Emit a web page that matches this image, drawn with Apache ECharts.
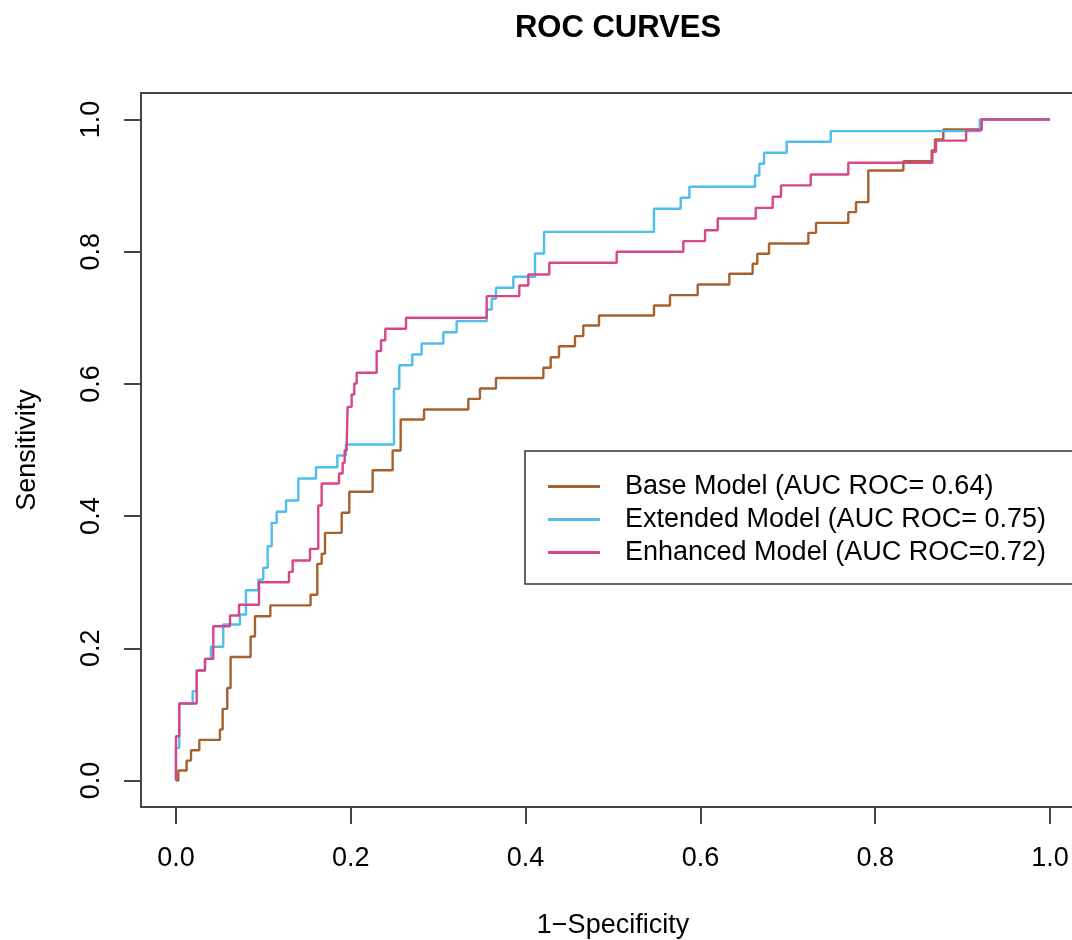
<!DOCTYPE html>
<html lang="en">
<head>
    <meta charset="UTF-8">
    <title>ROC CURVES</title>
    <script src="https://cdn.jsdelivr.net/npm/echarts@6/dist/echarts.min.js"></script>
    <style>
        html, body { margin: 0; padding: 0; background: #fff; }
        #main { width: 1072px; height: 940px; }
    </style>
</head>
<body>
<div id="main"></div>
<script>
    // 曲线名称（图例文字）
    var seriesNames = [
        'Base Model (AUC ROC= 0.64)',
        'Extended Model (AUC ROC= 0.75)',
        'Enhanced Model (AUC ROC=0.72)'
    ];
    var seriesColors = ['#a5622f', '#4fbdee', '#d8468a'];

    // 坐标轴刻度
    var tickValues = [0, 0.2, 0.4, 0.6, 0.8, 1.0];

    // [1-specificity, sensitivity], 每个点是一个台阶的左上角
    var baseRoc = [
        [0, 0], [0.0027, 0.0151], [0.0122, 0.0302], [0.0172, 0.0459], [0.0267, 0.0615],
        [0.0503, 0.0772], [0.0534, 0.1084], [0.0587, 0.140], [0.0625, 0.187], [0.0854, 0.218],
        [0.0904, 0.2486], [0.108, 0.265], [0.154, 0.281], [0.1617, 0.3278], [0.1667, 0.343],
        [0.1705, 0.3747], [0.1896, 0.405], [0.1983, 0.4368], [0.225, 0.4694], [0.2479, 0.4992],
        [0.2571, 0.5461], [0.2838, 0.5613], [0.3345, 0.5774], [0.3478, 0.593], [0.3661, 0.609],
        [0.4203, 0.6243], [0.4287, 0.6404], [0.4382, 0.657], [0.4565, 0.6722], [0.466, 0.6884],
        [0.484, 0.7035], [0.5469, 0.7186], [0.5652, 0.7342], [0.5969, 0.7504], [0.6331, 0.7665],
        [0.6598, 0.7817], [0.6651, 0.7968], [0.6785, 0.8124], [0.7235, 0.8285], [0.7323, 0.8436],
        [0.7692, 0.8598], [0.778, 0.8749], [0.7921, 0.9228], [0.8322, 0.9369], [0.8646, 0.9531],
        [0.8684, 0.9697], [0.8779, 0.9849], [0.9199, 1.0], [1.0, 1.0]
    ];
    var extendedRoc = [
        [0, 0], [0, 0.0494], [0.0038, 0.1165], [0.0191, 0.1351], [0.0237, 0.1664],
        [0.0332, 0.184], [0.040, 0.2023], [0.0541, 0.236], [0.0732, 0.2511], [0.0801, 0.2879],
        [0.0942, 0.304], [0.0999, 0.3218], [0.1049, 0.3545], [0.1095, 0.3898], [0.1152, 0.4065],
        [0.1259, 0.4236], [0.140, 0.4569], [0.1602, 0.474], [0.1846, 0.4917], [0.1945, 0.5083],
        [0.2494, 0.5926], [0.2555, 0.6283], [0.2704, 0.6445], [0.2811, 0.6611], [0.3059, 0.6782],
        [0.3211, 0.6949], [0.3555, 0.7126], [0.3612, 0.7287], [0.3661, 0.7454], [0.386, 0.762],
        [0.4108, 0.7973], [0.4211, 0.830], [0.5469, 0.8649], [0.5774, 0.8815], [0.5874, 0.8981],
        [0.6625, 0.9153], [0.6674, 0.933], [0.6728, 0.9496], [0.6987, 0.9662], [0.7491, 0.9823],
        [0.9199, 1.0], [1.0, 1.0]
    ];
    var enhancedRoc = [
        [0, 0], [0, 0.067], [0.0038, 0.1165], [0.0237, 0.1664], [0.0332, 0.184],
        [0.0427, 0.2335], [0.0618, 0.2496], [0.0721, 0.266], [0.095, 0.300], [0.1293, 0.3156],
        [0.1335, 0.3328], [0.1533, 0.3505], [0.1628, 0.416], [0.1667, 0.4493], [0.1865, 0.4644],
        [0.1907, 0.4806], [0.193, 0.4997], [0.1953, 0.5083], [0.1964, 0.5653], [0.201, 0.584],
        [0.204, 0.6006], [0.2067, 0.6168], [0.2296, 0.6495], [0.2346, 0.666], [0.2395, 0.6833],
        [0.2632, 0.700], [0.3555, 0.7327], [0.3928, 0.7489], [0.4031, 0.7655], [0.4271, 0.7832],
        [0.5042, 0.7998], [0.5805, 0.8159], [0.6053, 0.8325], [0.6198, 0.8502], [0.6633, 0.8663],
        [0.6827, 0.883], [0.6922, 0.9002], [0.7262, 0.9168], [0.7692, 0.9345], [0.8654, 0.951],
        [0.8696, 0.968], [0.904, 0.984], [0.9218, 1.0], [1.0, 1.0]
    ];
    var rocData = [baseRoc, extendedRoc, enhancedRoc];
</script>
<script>
    var font = "'Liberation Sans', Arial, Helvetica, sans-serif";
    var chart = echarts.init(document.getElementById('main'), null, {renderer: 'canvas'});

    function fmt(v) { return v.toFixed(1); }

    var series = seriesNames.map(function (name, i) {
        return {
            name: name,
            type: 'line',
            step: 'end',
            data: rocData[i],
            showSymbol: false,
            symbol: 'none',
            lineStyle: {color: seriesColors[i], width: 2.4},
            itemStyle: {color: seriesColors[i]},
            z: 2 + i
        };
    });

    // 坐标轴：框线由 grid 画，刻度朝外
    function axisOpt(name, gap, rotate, margin) {
        return {
            type: 'value',
            min: -0.04,
            max: 1.04,
            name: name,
            nameLocation: 'middle',
            nameGap: gap,
            nameTextStyle: {fontFamily: font, fontSize: 27, color: '#000'},
            axisLine: {show: false, onZero: false},
            splitLine: {show: false},
            axisTick: {
                show: true, length: 17, inside: false,
                customValues: tickValues,
                lineStyle: {color: '#444', width: 2}
            },
            axisLabel: {
                customValues: tickValues,
                formatter: fmt,
                rotate: rotate,
                margin: margin,
                fontFamily: font, fontSize: 27, color: '#000'
            }
        };
    }

    chart.setOption({
        animation: false,
        backgroundColor: '#fff',
        title: {
            text: 'ROC CURVES',
            left: 613,
            textAlign: 'center',
            top: 8,
            textStyle: {fontFamily: font, fontSize: 31, fontWeight: 'bold', color: '#000'}
        },
        legend: {
            orient: 'vertical',
            left: 525,
            top: 451,
            data: seriesNames,
            icon: 'rect',
            itemWidth: 52,
            itemHeight: 3,
            itemGap: 0,
            padding: [19, 40, 15, 23],
            borderColor: '#333',
            borderWidth: 1.5,
            selectedMode: false,
            textStyle: {
                fontFamily: font, fontSize: 27, color: '#000',
                lineHeight: 33, padding: [0, 0, 0, 20]
            }
        },
        grid: {
            left: 141,
            top: 93,
            width: 944,
            height: 714,
            show: true,
            borderColor: '#444',
            borderWidth: 2,
            containLabel: false,
            outerBoundsMode: 'none'
        },
        xAxis: axisOpt('1\u2212Specificity', 105, 0, 38),
        yAxis: axisOpt('Sensitivity', 100, 90, 36),
        series: series
    });
</script>
</body>
</html>
